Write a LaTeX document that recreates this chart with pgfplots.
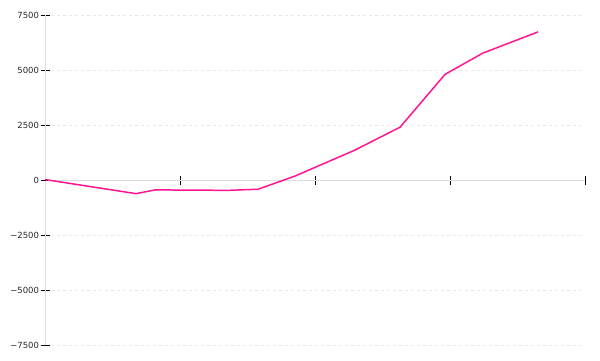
\documentclass[border=0pt]{standalone}
\usepackage{fontspec}
\setmainfont{DejaVu Sans}
\usepackage{pgfplots}
\pgfplotsset{compat=1.18}
\definecolor{linepink}{HTML}{FF1493}
\definecolor{axgray}{HTML}{DDDDDD}
\definecolor{gridgray}{HTML}{E8E8E8}
\begin{document}
\begin{tikzpicture}[x=1bp,y=1bp]
\useasboundingbox (0,0) rectangle (600,360);
\begin{axis}[
  at={(45bp,15bp)}, anchor=south west,
  scale only axis, width=540bp, height=330bp,
  xmin=0, xmax=4, ymin=-7500, ymax=7500,
  axis lines=middle,
  axis line style={-, draw=axgray, line width=0.8pt},
  xtick={0,1,2,3,4}, xticklabels={},
  ytick={-7500,-5000,-2500,2500,5000,7500},
  yticklabels={−7500,−5000,−2500,2500,5000,7500},
  extra y ticks={0},
  extra y tick labels={0},
  extra y tick style={grid=none},
  yticklabel style={font=\fontsize{8.5}{10}\selectfont, text=black!85, xshift=2bp},
  tick style={black, line width=0.8pt},
  major tick length=9bp,
  ymajorgrids,
  grid style={gridgray, dash pattern=on 3bp off 3bp, line width=0.7pt},
  clip=false,
]
\addplot[linepink, line width=1.5pt, line join=round] coordinates {
(0.000, 20)
(0.674, -620)
(0.815, -450)
(1.356, -470)
(1.578, -420)
(1.852, 180)
(2.296, 1360)
(2.630, 2400)
(2.963, 4800)
(3.244, 5770)
(3.652, 6730)
};
\end{axis}
\end{tikzpicture}
\end{document}
